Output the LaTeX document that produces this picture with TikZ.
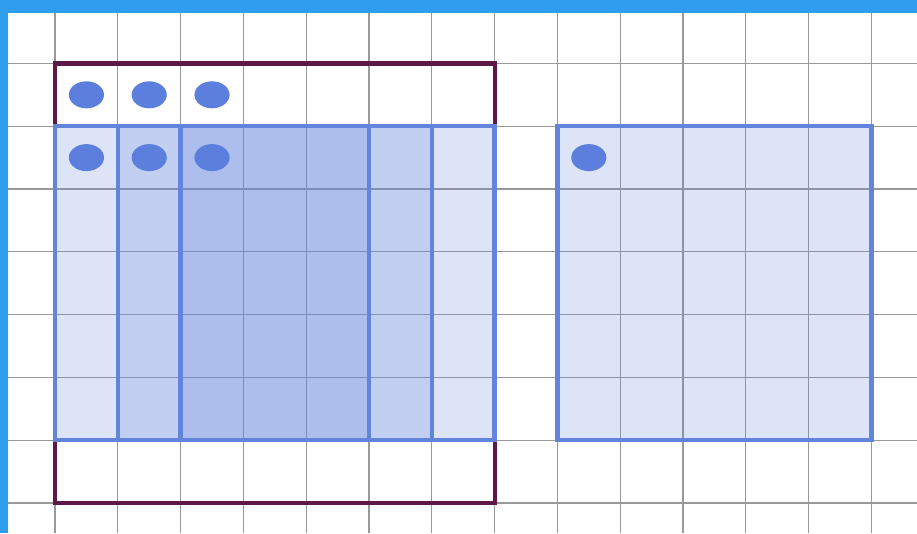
\documentclass[tikz,border=0pt]{standalone}
\usepackage{tikz}

\definecolor{framecol}{HTML}{2F9CEC}
\definecolor{boxred}{HTML}{5E1848}
\definecolor{cellblue}{HTML}{6384DB}
\definecolor{dotblue}{HTML}{5C7FDE}

\newcommand{\dims}{
\def\xl{-0.876}   % picture edges (1 unit = 1 grid cell)
\def\xr{13.726}
\def\yb{-0.478}
\def\yt{8.010}
\def\rx{0.28}     % dot radii
\def\ry{0.215}
}
\newcommand{\opa}{0.22}

\tikzset{
  gridline/.style={gray!80,line width=0.5pt},
  blockbox/.style={draw=cellblue,line width=2pt,fill=cellblue,fill opacity=\opa},
  outerbox/.style={draw=boxred,line width=1.9pt},
}

\begin{document}
\begin{tikzpicture}
  \dims
  \useasboundingbox (\xl,\yb) rectangle (\xr,\yt);
  \clip (\xl,\yb) rectangle (\xr,\yt);
  \draw[gridline] (\xl,\yb) grid (\xr,\yt);
  % outer frame
  \draw[outerbox] (0,0) rectangle (7,7);
  % nested blocks
  \draw[blockbox] (0,1) rectangle (7,6);
  \draw[blockbox] (1,1) rectangle (6,6);
  \draw[blockbox] (2,1) rectangle (5,6);
  \draw[blockbox] (8,1) rectangle (13,6);
  % dots
  \foreach \x in {0.5,1.5,2.5} {
    \fill[dotblue] (\x,6.5) ellipse [x radius=\rx, y radius=\ry];
    \fill[dotblue] (\x,5.5) ellipse [x radius=\rx, y radius=\ry];
  }
  \fill[dotblue] (8.5,5.5) ellipse [x radius=\rx, y radius=\ry];
  % window border
  \fill[framecol] (\xl,{\yt-0.2}) rectangle (\xr,\yt);
  \fill[framecol] (\xl,\yb) rectangle ({\xl+0.12},\yt);
\end{tikzpicture}
\end{document}
